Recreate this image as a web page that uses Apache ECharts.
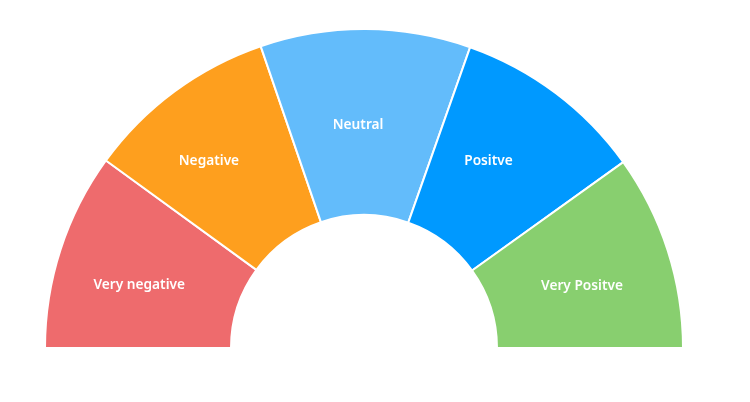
<!DOCTYPE html>
<html>
<head>
<meta charset="utf-8">
<script src="https://cdn.jsdelivr.net/npm/echarts@6/dist/echarts.min.js"></script>
<style>html,body{margin:0;padding:0;background:#fff;}#c{width:750px;height:402px;}</style>
</head>
<body>
<div id="c"></div>
<script>
const categories = ['Very negative', 'Negative', 'Neutral', 'Positve', 'Very Positve'];
const values = [20.0, 19.5, 21.3, 19.4, 19.8];
const colors = ['#EE6B6D', '#FE9F1E', '#63BCFB', '#0099FF', '#88CF6F'];
// label nudges (style only)
const labelOffsets = [[-7, 8], [-19, -3], [-7, 6], [-13, -4], [0, 8]];

const total = values.reduce((a, b) => a + b, 0);
const data = categories.map((name, i) => ({
  name: name,
  value: values[i],
  itemStyle: { color: colors[i] },
  label: { offset: labelOffsets[i] }
}));
data.push({
  name: '_hidden',
  value: total,
  itemStyle: { color: 'none', borderWidth: 0 },
  label: { show: false },
  emphasis: { disabled: true },
  tooltip: { show: false }
});

const chart = echarts.init(document.getElementById('c'), null, { renderer: 'canvas' });
chart.setOption({
  animation: false,
  backgroundColor: '#ffffff',
  series: [{
    type: 'pie',
    center: [364, 348],
    radius: [133, 319],
    startAngle: 180,
    clockwise: true,
    avoidLabelOverlap: false,
    silent: true,
    itemStyle: { borderColor: '#ffffff', borderWidth: 2 },
    label: {
      show: true,
      position: 'inside',
      color: '#ffffff',
      fontFamily: 'Noto Sans',
      fontWeight: 600,
      fontSize: 13.7
    },
    labelLine: { show: false },
    data: data
  }]
});
</script>
</body>
</html>
